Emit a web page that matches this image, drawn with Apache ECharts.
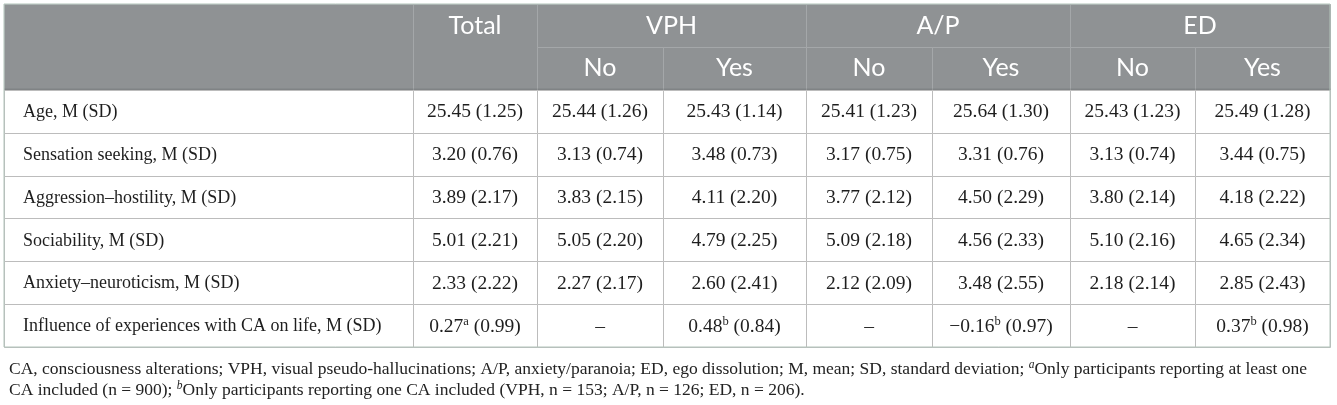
<!DOCTYPE html>
<html><head><meta charset="utf-8">
<script src="https://cdn.jsdelivr.net/npm/echarts@6/dist/echarts.min.js"></script>
<style>html,body{margin:0;padding:0;background:#fff}#c{width:1337px;height:405px}</style>
</head><body><div id="c"></div>
<script>
// ---- data ----
const rowLabels = [
  'Age, M (SD)',
  'Sensation seeking, M (SD)',
  'Aggression\u2013hostility, M (SD)',
  'Sociability, M (SD)',
  'Anxiety\u2013neuroticism, M (SD)',
  'Influence of experiences with CA on life, M (SD)'
];
const groups = ['Total', 'VPH', 'A/P', 'ED'];
const subLabels = ['No', 'Yes'];

const totalMean  = [25.45, 3.20, 3.89, 5.01, 2.33, 0.27];
const totalSD    = [1.25, 0.76, 2.17, 2.21, 2.22, 0.99];
const vphNoMean  = [25.44, 3.13, 3.83, 5.05, 2.27, null];
const vphNoSD    = [1.26, 0.74, 2.15, 2.20, 2.17, null];
const vphYesMean = [25.43, 3.48, 4.11, 4.79, 2.60, 0.48];
const vphYesSD   = [1.14, 0.73, 2.20, 2.25, 2.41, 0.84];
const apNoMean   = [25.41, 3.17, 3.77, 5.09, 2.12, null];
const apNoSD     = [1.23, 0.75, 2.12, 2.18, 2.09, null];
const apYesMean  = [25.64, 3.31, 4.50, 4.56, 3.48, -0.16];
const apYesSD    = [1.30, 0.76, 2.29, 2.33, 2.55, 0.97];
const edNoMean   = [25.43, 3.13, 3.80, 5.10, 2.18, null];
const edNoSD     = [1.23, 0.74, 2.14, 2.16, 2.14, null];
const edYesMean  = [25.49, 3.44, 4.18, 4.65, 2.85, 0.37];
const edYesSD    = [1.28, 0.75, 2.22, 2.34, 2.43, 0.98];
const totalNotes = [null, null, null, null, null, 'a'];
const subNotes   = [null, null, null, null, null, 'b'];

const footLine1 = ['CA, consciousness alterations; VPH, visual pseudo-hallucinations; A/P, anxiety/paranoia; ED, ego dissolution; M, mean; SD, standard deviation; ', 'a', 'Only participants reporting at least one'];
const footLine2 = ['CA included (n\u00a0=\u00a0900); ', 'b', 'Only participants reporting one CA included (VPH, n\u00a0=\u00a0153; A/P, n\u00a0=\u00a0126; ED, n\u00a0=\u00a0206).'];

// ---- layout (not data) ----
const colWidths = [409, 124, 126, 143, 126, 138, 125, 135];
const colEdges = [0];
colWidths.forEach(w => colEdges.push(colEdges[colEdges.length - 1] + w));
const nRows = 2 + rowLabels.length;

const valueCols = [
  {mean: totalMean, sd: totalSD, notes: totalNotes},
  {mean: vphNoMean, sd: vphNoSD, notes: subNotes},
  {mean: vphYesMean, sd: vphYesSD, notes: subNotes},
  {mean: apNoMean, sd: apNoSD, notes: subNotes},
  {mean: apYesMean, sd: apYesSD, notes: subNotes},
  {mean: edNoMean, sd: edNoSD, notes: subNotes},
  {mean: edYesMean, sd: edYesSD, notes: subNotes}
];

function fmt(v) { return (v < 0 ? '\u2212' : '') + Math.abs(v).toFixed(2); }

const cells = [];
// header
cells.push({c0: 0, c1: 1, row: 0, span: 2, text: '', kind: 'hdr'});
cells.push({c0: 1, c1: 2, row: 0, span: 2, text: groups[0], kind: 'hdrTop'});
for (let g = 1; g < groups.length; g++) {
  const c0 = 2 + (g - 1) * 2;
  cells.push({c0: c0, c1: c0 + 2, row: 0, span: 1, text: groups[g], kind: 'hdr'});
  subLabels.forEach((s, k) => cells.push({c0: c0 + k, c1: c0 + k + 1, row: 1, span: 1, text: s, kind: 'hdr'}));
}
// body
rowLabels.forEach((lab, r) => {
  cells.push({c0: 0, c1: 1, row: r + 2, span: 1, text: lab, kind: 'label'});
  valueCols.forEach((vc, k) => {
    const m = vc.mean[r];
    let t;
    if (m === null) t = '\u2013';
    else t = fmt(m) + (vc.notes[r] ? '{s|' + vc.notes[r] + '}' : '') + ' (' + vc.sd[r].toFixed(2) + ')';
    cells.push({c0: k + 1, c1: k + 2, row: r + 2, span: 1, text: t, kind: 'val'});
  });
});

const serif = '"Liberation Serif", "DejaVu Serif", serif';
const sans = 'Lato, "Open Sans", sans-serif';

function renderItem(params, api) {
  const cell = cells[params.dataIndex];
  const x0 = api.value(0), x1 = api.value(1), r0 = api.value(2), r1 = api.value(3);
  const p0 = api.coord([x0, r0]);
  const p1 = api.coord([x1, r1]);
  const x = Math.round(p0[0]) + 0.5, y = Math.round(p0[1]) + 0.5;
  const w = Math.round(p1[0]) - Math.round(p0[0]);
  const h = Math.round(p1[1]) - Math.round(p0[1]);
  const isHdr = cell.kind === 'hdr' || cell.kind === 'hdrTop';
  const children = [{
    type: 'rect',
    shape: {x: x, y: y, width: w, height: h},
    style: {fill: isHdr ? '#8f9294' : '#ffffff', stroke: isHdr ? '#a4a7a9' : '#bcbcbc', lineWidth: 1}
  }];
  if (isHdr && r1 === 2) {
    children.push({type: 'line', shape: {x1: x, y1: y + h - 1, x2: x + w, y2: y + h - 1},
      style: {stroke: '#808385', lineWidth: 2}});
  }
  if (cell.text) {
    let tx, ty, align = 'center';
    if (cell.kind === 'hdrTop') ty = api.coord([0, r0 + 0.5])[1];
    else ty = (p0[1] + p1[1]) / 2;
    if (cell.kind === 'label') { tx = p0[0] + 19; align = 'left'; }
    else tx = (p0[0] + p1[0]) / 2;
    const fontStr = isHdr ? ('25px ' + sans) : (cell.kind === 'val' ? ('19.5px ' + serif) : ('18px ' + serif));
    children.push({
      type: 'text',
      style: {
        text: cell.text, x: tx, y: ty + (isHdr ? 0 : 1), align: align, verticalAlign: 'middle',
        fill: isHdr ? '#ffffff' : '#1e1e1e',
        font: fontStr,
        rich: {s: {fontSize: 12.5, fontFamily: serif, fill: '#1e1e1e', verticalAlign: 'top', lineHeight: 23}}
      }
    });
  }
  return {type: 'group', children: children};
}

const chart = echarts.init(document.getElementById('c'), null, {renderer: 'canvas'});
chart.setOption({
  animation: false,
  title: {
    left: 4, top: 354, itemGap: 0,
    text: '{t|' + footLine1[0] + '}{sup|' + footLine1[1] + '}{t|' + footLine1[2] + '}\n{t|' + footLine2[0] + '}{sup|' + footLine2[1] + '}{t|' + footLine2[2] + '}',
    textStyle: {
      fontFamily: serif, fontSize: 17.5, fontWeight: 'normal', color: '#222', lineHeight: 21,
      rich: {
        t: {fontFamily: serif, fontSize: 17.5, color: '#222', lineHeight: 21},
        sup: {fontFamily: serif, fontSize: 11.5, fontStyle: 'italic', color: '#222', verticalAlign: 'top', lineHeight: 21}
      }
    }
  },
  grid: {left: 4, top: 4, width: colEdges[colEdges.length - 1], height: 343, show: true,
    borderColor: '#b2c4bb', borderWidth: 1, backgroundColor: 'transparent', z: 10},
  xAxis: {type: 'value', min: 0, max: colEdges[colEdges.length - 1], show: false},
  yAxis: {type: 'value', min: 0, max: nRows, inverse: true, show: false},
  series: [{
    type: 'custom',
    renderItem: renderItem,
    encode: {x: [0, 1], y: [2, 3]},
    data: cells.map(c => [colEdges[c.c0], colEdges[c.c1], c.row, c.row + c.span])
  }]
});
</script></body></html>
